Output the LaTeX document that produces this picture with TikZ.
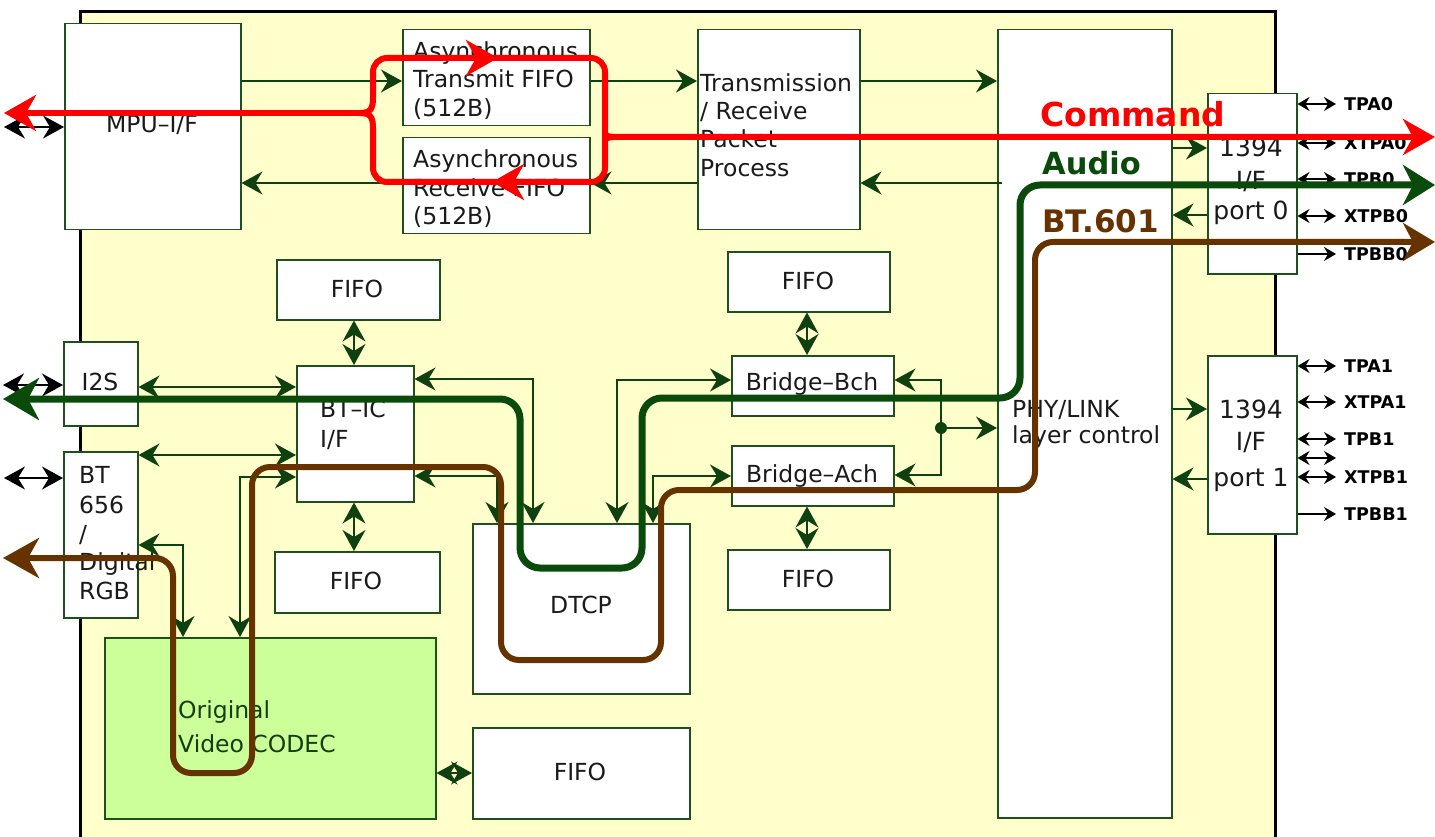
\documentclass[tikz,border=0pt]{standalone}
\usepackage{fontspec}
\setmainfont{DejaVu Sans}
\usetikzlibrary{arrows.meta}
\definecolor{chip}{HTML}{FFFFCC}
\definecolor{boxg}{HTML}{1E501E}
\definecolor{arrg}{HTML}{0F400F}
\definecolor{audiog}{HTML}{0A4A0A}
\definecolor{btbrown}{HTML}{663300}
\definecolor{codecg}{HTML}{CCFF99}
\definecolor{txtc}{HTML}{1A1A1A}
\definecolor{codect}{HTML}{123F12}
\begin{document}
\begin{tikzpicture}[x=1pt,y=-1pt,
  box/.style={draw=boxg, fill=white, line width=1.5pt, inner sep=0pt, anchor=north west},
  tx/.style={text=txtc, font=\fontsize{23.5}{28}\selectfont, inner sep=0pt},
  big/.style={text=txtc, font=\fontsize{25}{30}\selectfont, inner sep=0pt},
  lbl/.style={text=black, font=\bfseries\fontsize{17.5}{20}\selectfont, inner sep=0pt, anchor=west},
  gtip/.tip={Stealth[length=21pt,width=23pt,inset=7pt]},
  stip/.tip={Stealth[length=12pt,width=14pt,inset=4pt]},
  ga/.style={draw=arrg, line width=1.5pt, -gtip},
  gda/.style={draw=arrg, line width=1.5pt, gtip-gtip},
  bda/.style={draw=black, line width=1.5pt, gtip-gtip},
  sda/.style={draw=black, line width=1.4pt, stip-stip},
  sa/.style={draw=black, line width=1.4pt, -stip},
  cmd/.style={draw=red, line width=6pt},
  rtip/.tip={Stealth[length=32pt,width=36pt,inset=10pt]},
  audio/.style={draw=audiog, line width=7pt},
  bt/.style={draw=btbrown, line width=6pt},
]
\useasboundingbox (0,0) rectangle (1435,837);
\fill[white] (0,0) rectangle (1435,837);
% chip
\fill[chip] (80,12) rectangle (1275,837);
\draw[black, line width=3pt] (80,837) -- (80,12) -- (1275,12) -- (1275,837);

% boxes
\node[box, minimum width=176pt, minimum height=206pt] (mpu) at (64,23) {};
\node[box, minimum width=187pt, minimum height=96pt] (atx) at (402,29) {};
\node[box, minimum width=187pt, minimum height=96pt] (arx) at (402,137) {};
\node[box, minimum width=162pt, minimum height=200pt] (trp) at (697,29) {};
\node[box, minimum width=174pt, minimum height=788pt] (phy) at (997,29) {};
\node[box, minimum width=89pt, minimum height=180pt] (p0) at (1207,93) {};
\node[box, minimum width=89pt, minimum height=178pt] (p1) at (1207,355) {};
\node[box, minimum width=74pt, minimum height=84pt] (i2s) at (63,341) {};
\node[box, minimum width=74pt, minimum height=166pt] (bt656) at (63,451) {};
\node[box, minimum width=117pt, minimum height=136pt] (btic) at (296,365) {};
\node[box, minimum width=163pt, minimum height=60pt] (fifo1) at (276,259) {};
\node[box, minimum width=165pt, minimum height=61pt] (fifo2) at (274,551) {};
\node[box, minimum width=217pt, minimum height=170pt] (dtcp) at (472,523) {};
\node[box, fill=codecg, minimum width=331pt, minimum height=181pt] (codec) at (104,637) {};
\node[box, minimum width=217pt, minimum height=91pt] (fifo3) at (472,727) {};
\node[box, minimum width=162pt, minimum height=60pt] (bbch) at (731,355) {};
\node[box, minimum width=162pt, minimum height=60pt] (bach) at (731,445) {};
\node[box, minimum width=162pt, minimum height=60pt] (fifo4) at (727,251) {};
\node[box, minimum width=162pt, minimum height=60pt] (fifo5) at (727,549) {};

% box texts
\node[tx, anchor=base] (tmpu) at (152,133) {MPU–I/F};
\node[tx, anchor=base west] (tatx1) at (413,60) {Asynchronous};
\node[tx, anchor=base west] (tatx2) at (413,88) {Transmit FIFO};
\node[tx, anchor=base west] (tatx3) at (413,117) {(512B)};
\node[tx, anchor=base west] (tarx1) at (413,168) {Asynchronous};
\node[tx, anchor=base west] (tarx2) at (413,197) {Receive FIFO};
\node[tx, anchor=base west] (tarx3) at (413,225) {(512B)};
\node[tx, anchor=base west] (ttrp1) at (700,92) {Transmission};
\node[tx, anchor=base west] (ttrp2) at (700,120) {/ Receive};
\node[tx, anchor=base west] (ttrp3) at (700,148) {Packet};
\node[tx, anchor=base west] (ttrp4) at (700,177) {Process};
\node[tx, anchor=base west] (tphy1) at (1012,417) {PHY/LINK};
\node[tx, anchor=base west] (tphy2) at (1012,443) {layer control};
\node[big, anchor=base] (tp01) at (1251,157) {1394};
\node[big, anchor=base] (tp02) at (1251,190) {I/F};
\node[big, anchor=base] (tp03) at (1251,220) {port 0};
\node[big, anchor=base] (tp11) at (1251,418) {1394};
\node[big, anchor=base] (tp12) at (1251,450) {I/F};
\node[big, anchor=base] (tp13) at (1251,486) {port 1};
\node[tx, anchor=base] (ti2s) at (100,390) {I2S};
\node[tx, anchor=base west] (tbt1) at (79,483) {BT};
\node[tx, anchor=base west] (tbt2) at (79,513) {656};
\node[tx, anchor=base west] (tbt3) at (79,542) {/};
\node[tx, anchor=base west] (tbt4) at (79,570) {Digital};
\node[tx, anchor=base west] (tbt5) at (79,599) {RGB};
\node[tx, anchor=base west] (tbtic1) at (320,417) {BT–IC};
\node[tx, anchor=base west] (tbtic2) at (320,447) {I/F};
\node[tx, anchor=base] (tf1) at (357,297) {FIFO};
\node[tx, anchor=base] (tf2) at (356,589) {FIFO};
\node[tx, anchor=base] (tdtcp) at (581,613) {DTCP};
\node[tx, text=codect, anchor=base west] (tcod1) at (178,718) {Original};
\node[tx, text=codect, anchor=base west] (tcod2) at (178,752) {Video CODEC};
\node[tx, anchor=base] (tf3) at (580,780) {FIFO};
\node[tx, anchor=base] (tbb) at (812,390) {Bridge–Bch};
\node[tx, anchor=base] (tba) at (812,482) {Bridge–Ach};
\node[tx, anchor=base] (tf4) at (808,289) {FIFO};
\node[tx, anchor=base] (tf5) at (808,587) {FIFO};

% thin green connectors
\draw[ga] (mpu.east |- 0,81) -- (atx.west |- 0,81);
\draw[ga] (arx.west |- 0,183) -- (mpu.east |- 0,183);
\draw[ga] (atx.east |- 0,81) -- (trp.west |- 0,81);
\draw[ga] (trp.east |- 0,81) -- (phy.west |- 0,81);
\draw[ga] ([xshift=5pt]phy.west |- 0,183) -- (trp.east |- 0,183);
\draw[ga] (trp.west |- 0,183) -- (arx.east |- 0,183);
\draw[ga] (phy.east |- 0,148) -- (p0.west |- 0,148);
\draw[ga] (p0.west |- 0,215) -- (phy.east |- 0,215);
\draw[ga] (phy.east |- 0,409) -- (p1.west |- 0,409);
\draw[ga] (p1.west |- 0,479) -- (phy.east |- 0,479);
\draw[gda] (i2s.east |- 0,387) -- (btic.west |- 0,387);
\draw[gda] (bt656.east |- 0,455) -- (btic.west |- 0,455);
\draw[gda] (btic.west |- 0,477) -| (codec.north -| 240,0);
\draw[gda] (bt656.east |- 0,545) -| (codec.north -| 183,0);
\draw[gda] (fifo1.south -| 354,0) -- (btic.north -| 354,0);
\draw[gda] (btic.south -| 354,0) -- (fifo2.north -| 354,0);
\draw[gda] (codec.east |- 0,773) -- (fifo3.west |- 0,773);
\draw[gda] (fifo4.south -| 807,0) -- (bbch.north -| 807,0);
\draw[gda] (bach.south -| 807,0) -- (fifo5.north -| 807,0);
\draw[gda] (btic.east |- 0,379) -| (dtcp.north -| 533,0);
\draw[gda] (btic.east |- 0,476) -| (dtcp.north -| 497,0);
\draw[gda] (bbch.west |- 0,380) -| (dtcp.north -| 617,0);
\draw[gda] (bach.west |- 0,476) -| (dtcp.north -| 653,0);
\coordinate (jn) at (941,428);
\draw[ga] (jn) -- (phy.west |- jn);
\draw[ga] (jn) |- (bbch.east |- 0,380);
\draw[ga] (jn) |- (bach.east |- 0,475);
\fill[arrg] (jn) circle (6pt);

% left external arrows
\coordinate (empu) at (4,127);
\coordinate (ei2s) at (3,385);
\coordinate (ebt) at (4,478);
\draw[bda] (mpu.west |- empu) -- (empu);
\draw[bda] (i2s.west |- ei2s) -- (ei2s);
\draw[bda] (bt656.west |- ebt) -- (ebt);

% right labels and arrows
\node[lbl] (tpa0) at (1344,104) {TPA0};
\node[lbl] (xtpa0) at (1344,143) {XTPA0};
\node[lbl] (tpb0) at (1344,179) {TPB0};
\node[lbl] (xtpb0) at (1344,216) {XTPB0};
\node[lbl] (tpbb0) at (1344,254) {TPBB0};
\node[lbl] (tpa1) at (1344,366) {TPA1};
\node[lbl] (xtpa1) at (1344,402) {XTPA1};
\node[lbl] (tpb1) at (1344,439) {TPB1};
\coordinate (ex1) at (1336,458);
\node[lbl] (xtpb1) at (1344,477) {XTPB1};
\node[lbl] (tpbb1) at (1344,514) {TPBB1};
\draw[sda] (p0.east |- tpa0) -- ([xshift=-8pt]tpa0.west);
\draw[sda] (p0.east |- xtpa0) -- ([xshift=-8pt]xtpa0.west);
\draw[sda] (p0.east |- tpb0) -- ([xshift=-8pt]tpb0.west);
\draw[sda] (p0.east |- xtpb0) -- ([xshift=-8pt]xtpb0.west);
\draw[sa] (p0.east |- tpbb0) -- ([xshift=-8pt]tpbb0.west);
\draw[sda] (p1.east |- tpa1) -- ([xshift=-8pt]tpa1.west);
\draw[sda] (p1.east |- xtpa1) -- ([xshift=-8pt]xtpa1.west);
\draw[sda] (p1.east |- tpb1) -- ([xshift=-8pt]tpb1.west);
\draw[sda] (p1.east |- ex1) -- (ex1);
\draw[sda] (p1.east |- xtpb1) -- ([xshift=-8pt]xtpb1.west);
\draw[sa] (p1.east |- tpbb1) -- ([xshift=-8pt]tpbb1.west);

% Command (red)
\coordinate (cl) at (4,113);
\coordinate (cb) at (360,113);
\coordinate (cr) at (613,137);
\coordinate (ce) at (1435,137);
\draw[cmd, rtip-] (cl) -- (cb);
\draw[cmd, -rtip] (cb) .. controls (371,113) and (373,108) .. (373,98) [rounded corners=14pt] -- (373,58) -- (605,58) -- (605,124) [sharp corners] .. controls (605,133) and (607,137) .. (cr) -- (ce);
\draw[cmd] (cb) .. controls (371,113) and (373,118) .. (373,128) [rounded corners=14pt] -- (373,182) -- (605,182) -- (605,150) [sharp corners] .. controls (605,141) and (607,137) .. (cr);
\draw[cmd, -rtip] (468,58) -- (498,58);
\draw[cmd, -rtip] (522,182) -- (492,182);

% Audio (green)
\coordinate (al) at (3,399);
\coordinate (ae) at (1435,185);
\draw[audio, {Stealth[length=36pt,width=42pt,inset=11pt]}-{Stealth[length=32pt,width=40pt,inset=10pt]}] (al) [rounded corners=20pt] -- (520,399) -- (520,568) -- (642,568) -- (642,398) -- (1020,398) -- (1020,185) -- (ae);

% BT.601 (brown)
\coordinate (bl) at (3,558);
\coordinate (be) at (1435,242);
\draw[bt, {Stealth[length=36pt,width=40pt,inset=11pt]}-{Stealth[length=32pt,width=38pt,inset=10pt]}] (bl) [rounded corners=18pt] -- (173,558) -- (173,773) -- (252,773) -- (252,467) -- (501,467) -- (501,660) -- (661,660) -- (661,490) -- (1035,490) -- (1035,242) -- (be);

% path labels
\node[text=red, font=\bfseries\fontsize{33}{36}\selectfont, inner sep=0pt, anchor=base west] (lcmd) at (1040,127) {Command};
\node[text=audiog, font=\bfseries\fontsize{30.5}{34}\selectfont, inner sep=0pt, anchor=base west] (laud) at (1042,175) {Audio};
\node[text=btbrown, font=\bfseries\fontsize{31}{34}\selectfont, inner sep=0pt, anchor=base west] (lbt) at (1042,233) {BT.601};
\end{tikzpicture}
\end{document}
